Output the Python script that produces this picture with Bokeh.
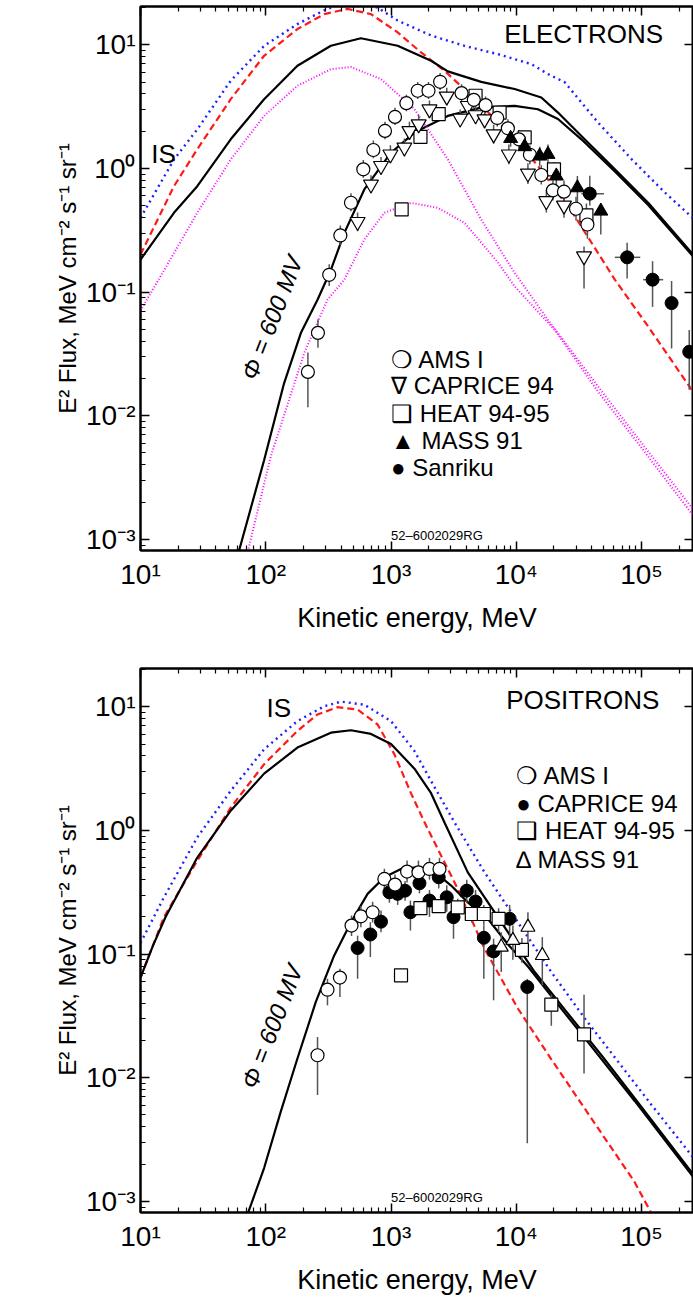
from bokeh.plotting import figure
from bokeh.layouts import column
from bokeh.models import LogAxis, FixedTicker, Range1d
from bokeh.core.properties import value
from bokeh.embed import file_html
from bokeh.resources import INLINE

FONT = "Liberation Sans"

# ---------------- axes ----------------
x_major = [10.0, 100.0, 1000.0, 10000.0, 100000.0]
x_labels = ["10¹", "10²", "10³", "10⁴", "10⁵"]
y_major = [0.001, 0.01, 0.1, 1.0, 10.0]
y_labels = ["10⁻³", "10⁻²", "10⁻¹", "10⁰", "10¹"]
x_title = "Kinetic energy, MeV"
y_title = "E² Flux, MeV cm⁻² s⁻¹ sr⁻¹"

# ---------------- ELECTRONS: model curves ----------------
e_blue_E = [10, 18.5, 28.4, 52.5, 97, 179, 293, 400, 550, 780, 1130, 2090, 3860, 7130, 13200, 17900, 24400, 45000, 83200, 154000, 265000]
e_blue_F = [0.398, 1.18, 2.07, 5.12, 9.8, 14.7, 19.0, 21.5, 22.0, 20.0, 15.7, 11.9, 9.8, 8.4, 6.98, 5.8, 4.97, 2.35, 1.19, 0.637, 0.386]
e_red_E = [10, 18.5, 28.4, 52.5, 97, 179, 293, 450, 692, 1130, 1738, 2673, 4102, 7943, 14890, 29310, 61240, 113000, 259400]
e_red_F = [0.201, 0.719, 1.43, 3.63, 8.15, 13.4, 17.7, 19.5, 17.7, 12.6, 8.67, 6.17, 4.12, 2.14, 1.05, 0.411, 0.126, 0.0527, 0.0155]
e_black_E = [10, 18.5, 28.4, 52.5, 97, 179, 331, 575, 1130, 2089, 2838, 5248, 9705, 15850, 21530, 33110, 61240, 113000, 265500]
e_black_F = [0.183, 0.438, 0.719, 1.72, 3.63, 6.76, 9.82, 11.3, 9.82, 7.43, 6.1, 5.01, 4.39, 3.75, 2.83, 1.83, 0.984, 0.527, 0.195]
e_mod_E = [61, 97, 140, 190.5, 259, 331, 424, 612, 1000, 1538, 2838, 5248, 9705, 14890, 21530, 33110, 61240, 113000, 265500]
e_mod_F = [0.0008, 0.00437, 0.0183, 0.0466, 0.0867, 0.151, 0.301, 0.676, 1.34, 1.95, 2.66, 3.10, 3.21, 3.01, 2.51, 1.72, 0.944, 0.507, 0.188]
e_mag1_E = [10, 14.45, 28.4, 52.5, 97, 179, 331, 479, 832, 1538, 2838, 5248, 9705, 17900, 44670, 100000, 259400]
e_mag1_F = [0.0708, 0.134, 0.438, 1.18, 2.66, 4.66, 6.35, 6.61, 5.28, 3.02, 1.19, 0.386, 0.143, 0.0597, 0.0174, 0.00603, 0.00174]
e_mag2_E = [72, 109.6, 202.8, 311, 424, 612, 885, 1445, 2360, 3864, 7129, 9705, 20280, 44670, 100000, 259400]
e_mag2_F = [0.0008, 0.00468, 0.0321, 0.0867, 0.126, 0.266, 0.438, 0.527, 0.48, 0.363, 0.174, 0.111, 0.0495, 0.0158, 0.0055, 0.00155]

# ---------------- ELECTRONS: data ----------------
ams_e_E = [217, 261, 321, 394, 479, 601, 723, 895, 1076, 1327, 1633, 1991, 2466, 3656, 4581, 5689, 7047, 8570, 10500, 12850, 15850, 19630, 24040, 29990, 36980]
ams_e_F = [0.0226, 0.0468, 0.138, 0.287, 0.528, 0.984, 1.41, 2.01, 2.61, 3.37, 4.25, 4.25, 5.02, 4.07, 3.59, 3.25, 2.56, 2.11, 1.72, 1.29, 0.885, 0.665, 0.649, 0.472, 0.352]
ams_e_lo = [0.0117, 0.0355, 0.112, 0.24, 0.45, 0.84, 1.21, 1.72, 2.25, 2.9, 3.65, 3.65, 4.3, 3.5, 3.08, 2.78, 2.18, 1.8, 1.46, 1.08, 0.74, 0.55, 0.53, 0.38, 0.27]
ams_e_hi = [0.0324, 0.0603, 0.168, 0.345, 0.63, 1.17, 1.68, 2.38, 3.1, 3.95, 5.0, 5.0, 5.9, 4.8, 4.2, 3.82, 3.02, 2.5, 2.05, 1.53, 1.06, 0.8, 0.8, 0.59, 0.46]

cap_e_E = [541, 692, 832, 989, 1279, 1403, 1663, 2028, 2786, 3565, 4102, 4732, 5585, 6592, 8730, 12390, 17380, 24040, 34750]
cap_e_F = [0.370, 0.743, 1.05, 1.30, 1.48, 2.01, 2.28, 3.01, 3.82, 2.54, 3.21, 2.70, 2.50, 1.89, 1.30, 0.912, 0.545, 0.502, 0.195]
cap_e_lo = [0.31, 0.63, 0.89, 1.1, 1.25, 1.7, 1.93, 2.55, 3.25, 2.15, 2.72, 2.28, 2.1, 1.58, 1.08, 0.75, 0.44, 0.40, 0.107]
cap_e_hi = [0.44, 0.88, 1.24, 1.54, 1.75, 2.38, 2.7, 3.55, 4.5, 3.0, 3.8, 3.2, 2.98, 2.26, 1.56, 1.1, 0.67, 0.62, 0.234]

heat_e_E = [1216, 1718, 2404, 4732, 7362, 11670, 20000, 36310]
heat_e_F = [0.466, 1.80, 2.75, 3.87, 2.83, 1.78, 0.984, 0.417]
heat_e_lo = [0.42, 1.65, 2.5, 3.5, 2.55, 1.58, 0.87, 0.33]
heat_e_hi = [0.52, 1.97, 3.0, 4.25, 3.12, 2.0, 1.12, 0.52]

mass_e_E = [9016, 11670, 15380, 17910, 20890, 30760, 47320]
mass_e_F = [1.75, 1.50, 1.26, 1.30, 0.869, 0.698, 0.452]
mass_e_lo = [1.5, 1.28, 1.05, 1.08, 0.71, 0.53, 0.292]
mass_e_hi = [2.05, 1.76, 1.5, 1.56, 1.05, 0.87, 0.501]

san_e_E = [38640, 76740, 122500, 173800, 240400]
san_e_F = [0.625, 0.191, 0.126, 0.0815, 0.0329]
san_e_lo = [0.501, 0.129, 0.0759, 0.035, 0.0162]
san_e_hi = [0.871, 0.251, 0.178, 0.123, 0.0493]
san_e_Elo = [33110, 61240, 103000, 173800, 240400]
san_e_Ehi = [50120, 97720, 149000, 173800, 240400]

e_legend = ["❍ AMS I", "∇ CAPRICE 94", "❑ HEAT 94-95", "▲ MASS 91", "● Sanriku"]

# ---------------- POSITRONS: model curves ----------------
p_blue_E = [10, 15.4, 28.4, 52.5, 97, 179, 293, 398, 612, 1000, 1538, 2089, 3214, 5585, 10300, 19050, 35240, 65010, 120200, 261800]
p_blue_F = [0.123, 0.288, 0.879, 2.09, 4.53, 7.66, 10.1, 11.0, 10.4, 7.66, 4.39, 2.51, 1.16, 0.458, 0.181, 0.0716, 0.0302, 0.0135, 0.00603, 0.00223]
p_black_E = [10, 12.6, 15.85, 28.4, 52.5, 97, 179, 331, 479, 692, 1000, 1538, 2089, 2673, 4102, 7586, 14030, 25880, 47860, 88510, 261800]
p_black_F = [0.0646, 0.1175, 0.1995, 0.603, 1.445, 2.88, 4.68, 6.17, 6.46, 6.03, 5.01, 3.16, 2.0, 1.16, 0.458, 0.181, 0.0716, 0.033, 0.0152, 0.0068, 0.00163]
p_red_E = [10, 15.4, 28.4, 52.5, 97, 179, 259, 374, 541, 782, 1064, 1445, 1905, 3412, 5585, 10300, 19050, 45080, 87500, 114800, 158500]
p_red_F = [0.0646, 0.1995, 0.569, 1.53, 3.43, 6.37, 8.67, 9.93, 9.51, 7.19, 4.13, 1.995, 1.096, 0.3365, 0.1104, 0.0363, 0.0141, 0.00389, 0.00145, 0.00087, 0.0005]
p_mod_E = [72, 97, 131.8, 179, 251, 352, 479, 650, 885, 1202, 1633, 2239, 3020, 4102, 5929, 8570, 12390, 19050, 35240, 88510, 261800]
p_mod_F = [0.0008, 0.00186, 0.00532, 0.0143, 0.041, 0.0975, 0.181, 0.307, 0.418, 0.488, 0.504, 0.46, 0.358, 0.262, 0.193, 0.120, 0.0794, 0.0457, 0.0209, 0.00646, 0.00155]

# ---------------- POSITRONS: data ----------------
ams_p_E = [259, 311, 391, 484, 575, 713, 885, 1076, 1343, 1656, 2028, 2438]
ams_p_F = [0.0152, 0.0515, 0.0646, 0.170, 0.202, 0.218, 0.405, 0.365, 0.465, 0.458, 0.488, 0.488]
ams_p_lo = [0.00724, 0.0385, 0.045, 0.14, 0.165, 0.18, 0.33, 0.30, 0.38, 0.37, 0.40, 0.40]
ams_p_hi = [0.0214, 0.0632, 0.0762, 0.205, 0.245, 0.265, 0.49, 0.44, 0.57, 0.57, 0.60, 0.60]

cap_p_E = [541, 684, 832, 971, 1130, 1294, 1429, 1687, 2028, 2404, 2786, 3155, 4027, 4732, 5508, 6592, 8851, 12250]
cap_p_F = [0.112, 0.144, 0.183, 0.316, 0.307, 0.326, 0.218, 0.374, 0.271, 0.418, 0.288, 0.199, 0.326, 0.266, 0.1355, 0.1052, 0.193, 0.0542]
cap_p_lo = [0.0632, 0.0946, 0.150, 0.26, 0.25, 0.27, 0.155, 0.31, 0.2, 0.34, 0.22, 0.133, 0.26, 0.2, 0.0632, 0.0423, 0.135, 0.00295]
cap_p_hi = [0.141, 0.181, 0.225, 0.38, 0.37, 0.39, 0.271, 0.45, 0.33, 0.5, 0.36, 0.247, 0.4, 0.33, 0.170, 0.133, 0.25, 0.063]

heat_p_E = [1202, 1718, 2404, 3412, 4416, 5508, 7228, 11090, 19050, 34750]
heat_p_F = [0.0673, 0.235, 0.244, 0.239, 0.211, 0.211, 0.193, 0.108, 0.039, 0.0224]
heat_p_lo = [0.0673, 0.21, 0.22, 0.2, 0.18, 0.17, 0.15, 0.085, 0.0263, 0.0108]
heat_p_hi = [0.0673, 0.265, 0.27, 0.28, 0.25, 0.25, 0.235, 0.135, 0.0468, 0.0468]

mass_p_E = [7586, 9397, 12390, 16140]
mass_p_F = [0.114, 0.129, 0.165, 0.0975]
mass_p_lo = [0.0716, 0.09, 0.1007, 0.0558]
mass_p_hi = [0.150, 0.17, 0.218, 0.137]

p_legend = ["❍ AMS I", "● CAPRICE 94", "❑ HEAT 94-95", "∆ MASS 91"]

X_MIN, X_MAX = 10.0, 2.6e5
Y_MIN, Y_MAX = 8.13e-4, 20.4

x_minor = [m * 10.0 ** k for k in range(1, 6) for m in range(2, 10)]
y_minor = [m * 10.0 ** k for k in range(-4, 2) for m in range(2, 10)]

ERR = "#555555"


def make_fig(height, top_b, bottom_b):
    p = figure(width=693, height=height, x_axis_type="log", y_axis_type="log",
               x_range=Range1d(X_MIN, X_MAX), y_range=Range1d(Y_MIN, Y_MAX),
               output_backend="svg", toolbar_location=None,
               min_border_left=140, min_border_right=0,
               min_border_top=top_b, min_border_bottom=bottom_b)
    p.xgrid.visible = False
    p.ygrid.visible = False
    p.outline_line_color = "black"
    p.outline_line_width = 2
    p.background_fill_color = "white"
    p.border_fill_color = "white"

    common = dict(axis_line_width=2, axis_line_color="black",
                  major_tick_line_width=1.5, minor_tick_line_width=1.2,
                  major_tick_in=9, major_tick_out=0, minor_tick_in=5, minor_tick_out=0,
                  major_label_text_font=FONT, major_label_text_color="black",
                  axis_label_text_font=FONT, axis_label_text_font_style="normal",
                  axis_label_text_color="black")
    xa = p.xaxis[0]
    xa.ticker = FixedTicker(ticks=x_major, minor_ticks=x_minor)
    xa.major_label_overrides = dict(zip(x_major, x_labels))
    xa.axis_label = x_title
    xa.update(**common)
    xa.major_label_text_font_size = "28px"
    xa.axis_label_text_font_size = "27px"
    xa.major_label_standoff = 8
    xa.axis_label_standoff = 10

    ya = p.yaxis[0]
    ya.ticker = FixedTicker(ticks=y_major, minor_ticks=y_minor)
    ya.major_label_overrides = dict(zip(y_major, y_labels))
    ya.axis_label = y_title
    ya.update(**common)
    ya.major_label_text_font_size = "28px"
    ya.axis_label_text_font_size = "24px"
    ya.major_label_standoff = 5
    ya.axis_label_standoff = 2

    top = LogAxis(ticker=FixedTicker(ticks=x_major, minor_ticks=x_minor), **common)
    top.major_label_text_font_size = "1px"
    top.major_label_text_alpha = 0
    top.major_label_standoff = 0
    p.add_layout(top, "above")
    right = LogAxis(ticker=FixedTicker(ticks=y_major, minor_ticks=[]), **common)
    right.major_label_text_font_size = "1px"
    right.major_label_text_alpha = 0
    right.major_label_standoff = 0
    p.add_layout(right, "right")
    return p


def txt(p, x, y, s, size, align="left", angle=0.0, style="normal"):
    p.text(x=[x], y=[y], text=[s], text_font=value(FONT), text_font_size=size,
           text_align=align, text_baseline="middle", angle=angle,
           text_font_style=style, text_color="black")


# ================= ELECTRONS =================
p1 = make_fig(640, 6, 90)
p1.line(e_blue_E, e_blue_F, line_color="#1f1fff", line_width=2.4, line_dash="2 4")
p1.line(e_red_E, e_red_F, line_color="#ff1a1a", line_width=2.2, line_dash="7 4")
p1.line(e_black_E, e_black_F, line_color="black", line_width=2.2)
p1.line(e_mod_E, e_mod_F, line_color="black", line_width=2.2)
p1.line(e_mag1_E, e_mag1_F, line_color="#ff00ff", line_width=2, line_dash="1 2")
p1.line(e_mag2_E, e_mag2_F, line_color="#ff00ff", line_width=2, line_dash="1 2")

for E, lo, hi in [(ams_e_E, ams_e_lo, ams_e_hi), (cap_e_E, cap_e_lo, cap_e_hi),
                  (heat_e_E, heat_e_lo, heat_e_hi), (mass_e_E, mass_e_lo, mass_e_hi),
                  (san_e_E, san_e_lo, san_e_hi)]:
    p1.segment(x0=E, y0=lo, x1=E, y1=hi, line_color=ERR, line_width=1.5)
p1.segment(x0=san_e_Elo, y0=san_e_F, x1=san_e_Ehi, y1=san_e_F, line_color=ERR, line_width=1.5)

p1.scatter(heat_e_E, heat_e_F, marker="square", size=13, fill_color="white", line_color="black", line_width=1.2)
p1.scatter(cap_e_E, cap_e_F, marker="inverted_triangle", size=15, fill_color="white", line_color="black", line_width=1.2)
p1.scatter(ams_e_E, ams_e_F, marker="circle", size=13, fill_color="white", line_color="black", line_width=1.2)
p1.scatter(mass_e_E, mass_e_F, marker="triangle", size=14, fill_color="black", line_color="black")
p1.scatter(san_e_E, san_e_F, marker="circle", size=13, fill_color="black", line_color="black")

txt(p1, 8000, 12.2, "ELECTRONS", "26px")
txt(p1, 15.3, 1.3, "IS", "26px", align="center")
txt(p1, 112, 0.062, "Φ = 600 MV", "24px", align="center", angle=1.2, style="italic")
txt(p1, 1000, 0.00108, "52–6002029RG", "13px")
for lab, yy in zip(e_legend, [0.0283, 0.0174, 0.0105, 0.00635, 0.00384]):
    txt(p1, 1000, yy, lab, "24px")

# ================= POSITRONS =================
p2 = make_fig(658, 28, 86)
p2.line(p_blue_E, p_blue_F, line_color="#1f1fff", line_width=2.4, line_dash="2 4")
p2.line(p_red_E, p_red_F, line_color="#ff1a1a", line_width=2.2, line_dash="7 4")
p2.line(p_black_E, p_black_F, line_color="black", line_width=2.2)
p2.line(p_mod_E, p_mod_F, line_color="black", line_width=2.2)

for E, lo, hi in [(ams_p_E, ams_p_lo, ams_p_hi), (cap_p_E, cap_p_lo, cap_p_hi),
                  (heat_p_E, heat_p_lo, heat_p_hi), (mass_p_E, mass_p_lo, mass_p_hi)]:
    p2.segment(x0=E, y0=lo, x1=E, y1=hi, line_color=ERR, line_width=1.5)

p2.scatter(cap_p_E, cap_p_F, marker="circle", size=13, fill_color="black", line_color="black")
p2.scatter(ams_p_E, ams_p_F, marker="circle", size=13, fill_color="white", line_color="black", line_width=1.2)
p2.scatter(heat_p_E, heat_p_F, marker="square", size=13, fill_color="white", line_color="black", line_width=1.2)
p2.scatter(mass_p_E, mass_p_F, marker="triangle", size=14, fill_color="white", line_color="black", line_width=1.2)

txt(p2, 8300, 11.4, "POSITRONS", "26px")
txt(p2, 127, 9.8, "IS", "26px", align="center")
txt(p2, 112, 0.026, "Φ = 600 MV", "24px", align="center", angle=1.2, style="italic")
txt(p2, 1000, 0.00108, "52–6002029RG", "13px")
for lab, yy in zip(p_legend, [2.78, 1.652, 1.0, 0.583]):
    txt(p2, 10000, yy, lab, "24px")

layout = column(p1, p2, spacing=0)
open("out.html", "w").write(file_html(layout, INLINE))
